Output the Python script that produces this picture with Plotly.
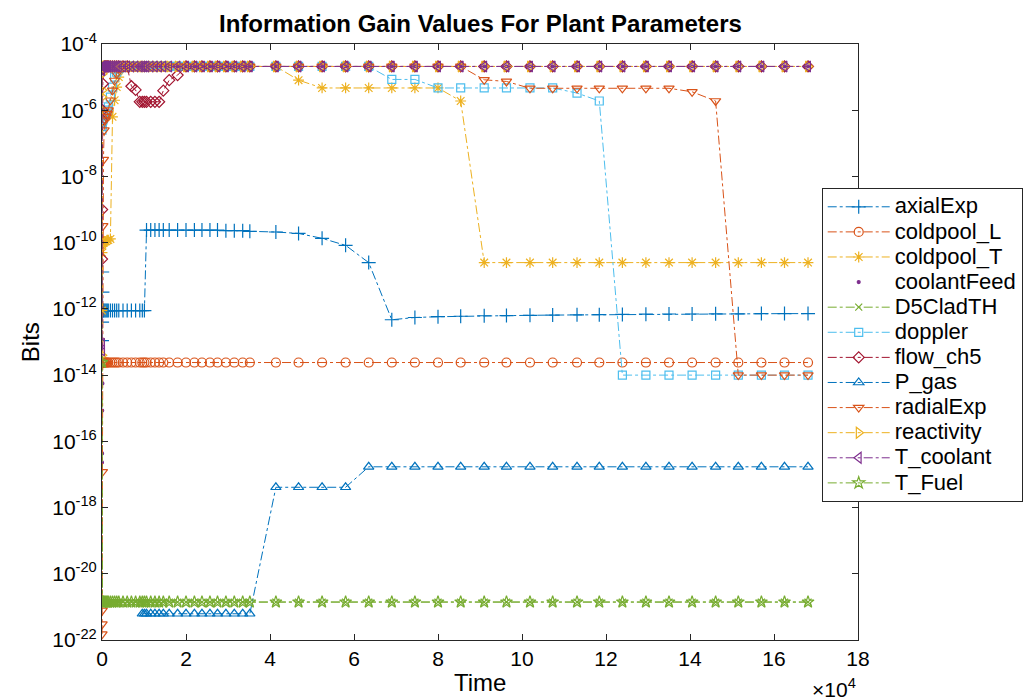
import plotly.graph_objects as go

# Time axis values (in units of 1e4)
TIME = [0, 0.002, 0.005, 0.01, 0.02, 0.035, 0.05, 0.075, 0.1, 0.125,
        0.15, 0.2, 0.25, 0.3, 0.35, 0.4, 0.5, 0.6, 0.7, 0.8,
        0.9, 0.96, 1.01, 1.06, 1.16, 1.26, 1.36, 1.46, 1.6, 1.8,
        2.0, 2.2, 2.38, 2.57, 2.75, 2.95, 3.15, 3.35, 3.52, 4.14,
        4.68, 5.24, 5.8, 6.35, 6.9, 7.45, 8.0, 8.54, 9.1, 9.63,
        10.19, 10.73, 11.31, 11.84, 12.39, 12.95, 13.5, 14.05, 14.61, 15.15,
        15.7, 16.25, 16.81]

AXIAL_EXP = [1.1e-13, 4.0e-13, 1.3e-11, 3.2e-12, 8.9e-13, 8.9e-13, 8.9e-13, 8.9e-13, 8.9e-13, 8.9e-13,
             8.9e-13, 8.9e-13, 8.9e-13, 8.9e-13, 8.9e-13, 8.9e-13, 8.9e-13, 8.9e-13, 8.9e-13, 8.9e-13,
             8.9e-13, 8.9e-13, 8.9e-13, 2.4e-10, 2.4e-10, 2.4e-10, 2.4e-10, 2.4e-10, 2.4e-10, 2.4e-10,
             2.4e-10, 2.4e-10, 2.4e-10, 2.4e-10, 2.4e-10, 2.3e-10, 2.3e-10, 2.3e-10, 2.2e-10, 2.1e-10,
             1.9e-10, 1.35e-10, 8.3e-11, 2.5e-11, 4.7e-13, 5.5e-13, 5.8e-13, 6.0e-13, 6.2e-13, 6.3e-13,
             6.4e-13, 6.5e-13, 6.6e-13, 6.7e-13, 6.8e-13, 6.9e-13, 7.0e-13, 7.0e-13, 7.1e-13, 7.1e-13,
             7.2e-13, 7.2e-13, 7.2e-13]

COLDPOOL_L = [2.4e-14, 2.4e-14, 2.4e-14, 2.4e-14, 2.4e-14, 2.4e-14, 2.4e-14, 2.4e-14, 2.4e-14, 2.4e-14,
              2.4e-14, 2.4e-14, 2.4e-14, 2.4e-14, 2.4e-14, 2.4e-14, 2.4e-14, 2.4e-14, 2.4e-14, 2.4e-14,
              2.4e-14, 2.4e-14, 2.4e-14, 2.4e-14, 2.4e-14, 2.4e-14, 2.4e-14, 2.4e-14, 2.4e-14, 2.4e-14,
              2.4e-14, 2.4e-14, 2.4e-14, 2.4e-14, 2.4e-14, 2.4e-14, 2.4e-14, 2.4e-14, 2.4e-14, 2.4e-14,
              2.4e-14, 2.4e-14, 2.4e-14, 2.4e-14, 2.4e-14, 2.4e-14, 2.4e-14, 2.4e-14, 2.4e-14, 2.4e-14,
              2.4e-14, 2.4e-14, 2.4e-14, 2.4e-14, 2.4e-14, 2.4e-14, 2.4e-14, 2.4e-14, 2.4e-14, 2.4e-14,
              2.4e-14, 2.4e-14, 2.4e-14]

COLDPOOL_T = [8.9e-13, 5.0e-11, 7.9e-11, 8.7e-11, 1.0e-10, 1.0e-10, 1.1e-10, 1.1e-10, 1.1e-10, 1.2e-10,
              1.2e-10, 1.3e-10, 6.3e-7, 2.0e-6, 5.0e-6, 1.0e-5, 2.0e-5, 2.1e-5, 2.1e-5, 2.1e-5,
              2.1e-5, 2.1e-5, 2.1e-5, 2.1e-5, 2.1e-5, 2.1e-5, 2.1e-5, 2.1e-5, 2.1e-5, 2.1e-5,
              2.1e-5, 2.1e-5, 2.1e-5, 2.1e-5, 2.1e-5, 2.1e-5, 2.1e-5, 2.1e-5, 2.1e-5, 2.1e-5,
              8.1e-6, 4.7e-6, 4.7e-6, 4.7e-6, 4.7e-6, 4.7e-6, 4.7e-6, 1.9e-6, 2.5e-11, 2.5e-11,
              2.5e-11, 2.5e-11, 2.5e-11, 2.5e-11, 2.5e-11, 2.5e-11, 2.5e-11, 2.5e-11, 2.5e-11, 2.5e-11,
              2.5e-11, 2.5e-11, 2.5e-11]

COOLANT_FEED = [2.3e-17, 4.3e-17, 8.5e-16, 5.6e-15, 1.8e-5, 2.1e-5, 2.1e-5, 2.1e-5, 2.1e-5, 2.1e-5,
                2.1e-5, 2.1e-5, 2.1e-5, 2.1e-5, 2.1e-5, 2.1e-5, 2.1e-5, 2.1e-5, 2.1e-5, 2.1e-5,
                2.1e-5, 2.1e-5, 2.1e-5, 2.1e-5, 2.1e-5, 2.1e-5, 2.1e-5, 2.1e-5, 2.1e-5, 2.1e-5,
                2.1e-5, 2.1e-5, 2.1e-5, 2.1e-5, 2.1e-5, 2.1e-5, 2.1e-5, 2.1e-5, 2.1e-5, 2.1e-5,
                2.1e-5, 2.1e-5, 2.1e-5, 2.1e-5, 2.1e-5, 2.1e-5, 2.1e-5, 2.1e-5, 2.1e-5, 2.1e-5,
                2.1e-5, 2.1e-5, 2.1e-5, 2.1e-5, 2.1e-5, 2.1e-5, 2.1e-5, 2.1e-5, 2.1e-5, 2.1e-5,
                2.1e-5, 2.1e-5, 2.1e-5]

D5CLADTH = [2.4e-14, 1.4e-21, 1.4e-21, 1.4e-21, 1.4e-21, 1.4e-21, 1.4e-21, 1.4e-21, 1.4e-21, 1.4e-21,
            1.4e-21, 1.4e-21, 1.4e-21, 1.4e-21, 1.4e-21, 1.4e-21, 1.4e-21, 1.4e-21, 1.4e-21, 1.4e-21,
            1.4e-21, 1.4e-21, 1.4e-21, 1.4e-21, 1.4e-21, 1.4e-21, 1.4e-21, 1.4e-21, 1.4e-21, 1.4e-21,
            1.4e-21, 1.4e-21, 1.4e-21, 1.4e-21, 1.4e-21, 1.4e-21, 1.4e-21, 1.4e-21, 1.4e-21, 1.4e-21,
            1.4e-21, 1.4e-21, 1.4e-21, 1.4e-21, 1.4e-21, 1.4e-21, 1.4e-21, 1.4e-21, 1.4e-21, 1.4e-21,
            1.4e-21, 1.4e-21, 1.4e-21, 1.4e-21, 1.4e-21, 1.4e-21, 1.4e-21, 1.4e-21, 1.4e-21, 1.4e-21,
            1.4e-21, 1.4e-21, 1.4e-21]

DOPPLER = [2.5e-7, 3.2e-7, 4.0e-7, 4.5e-7, 5.0e-7, 5.6e-7, 6.3e-7, 7.1e-7, 7.9e-7, 1.0e-6,
           1.26e-6, 2.5e-6, 5.0e-6, 1.0e-5, 1.4e-5, 1.8e-5, 2.1e-5, 2.1e-5, 2.1e-5, 2.1e-5,
           2.1e-5, 2.1e-5, 2.1e-5, 2.1e-5, 2.1e-5, 2.1e-5, 2.1e-5, 2.1e-5, 2.1e-5, 2.1e-5,
           2.1e-5, 2.1e-5, 2.1e-5, 2.1e-5, 2.1e-5, 2.1e-5, 2.1e-5, 2.1e-5, 2.1e-5, 2.1e-5,
           2.1e-5, 2.1e-5, 2.1e-5, 2.1e-5, 8.5e-6, 8.5e-6, 4.7e-6, 4.7e-6, 4.7e-6, 4.7e-6,
           4.7e-6, 4.7e-6, 3.3e-6, 1.9e-6, 1.0e-14, 1.0e-14, 1.0e-14, 1.0e-14, 1.0e-14, 1.0e-14,
           1.0e-14, 1.0e-14, 1.0e-14]

FLOW_CH5 = [3.2e-11, 1.0e-9, 5.0e-7, 1.0e-6, 6.3e-6, 1.8e-5, 2.1e-5, 2.1e-5, 2.1e-5, 2.1e-5,
            2.1e-5, 2.1e-5, 2.1e-5, 2.1e-5, 2.1e-5, 2.1e-5, 2.1e-5, 2.1e-5, 5.3e-6, 4.1e-6,
            1.8e-6, 1.8e-6, 1.8e-6, 1.8e-6, 1.8e-6, 1.8e-6, 1.8e-6, 3.9e-6, 8.1e-6, 1.15e-5,
            2.1e-5, 2.1e-5, 2.1e-5, 2.1e-5, 2.1e-5, 2.1e-5, 2.1e-5, 2.1e-5, 2.1e-5, 2.1e-5,
            2.1e-5, 2.1e-5, 2.1e-5, 2.1e-5, 2.1e-5, 2.1e-5, 2.1e-5, 2.1e-5, 2.1e-5, 2.1e-5,
            2.1e-5, 2.1e-5, 2.1e-5, 2.1e-5, 2.1e-5, 2.1e-5, 2.1e-5, 2.1e-5, 2.1e-5, 2.1e-5,
            2.1e-5, 2.1e-5, 2.1e-5]

P_GAS = [None, None, None, None, None, None, None, None, None, None,
         None, None, None, None, None, None, None, None, None, None,
         None, 6.2e-22, 6.2e-22, 6.2e-22, 6.2e-22, 6.2e-22, 6.2e-22, 6.2e-22, 6.2e-22, 6.2e-22,
         6.2e-22, 6.2e-22, 6.2e-22, 6.2e-22, 6.2e-22, 6.2e-22, 6.2e-22, 6.2e-22, 6.2e-22, 4.1e-18,
         4.1e-18, 4.1e-18, 4.1e-18, 1.7e-17, 1.7e-17, 1.7e-17, 1.7e-17, 1.7e-17, 1.7e-17, 1.7e-17,
         1.7e-17, 1.7e-17, 1.7e-17, 1.7e-17, 1.7e-17, 1.7e-17, 1.7e-17, 1.7e-17, 1.7e-17, 1.7e-17,
         1.7e-17, 1.7e-17, 1.7e-17]

RADIAL_EXP = [1.5e-22, 3.0e-22, 7.8e-22, 1.2e-17, 3.2e-10, 3.2e-8, 2.5e-7, 5.0e-7, 6.3e-7, 7.9e-7,
              1.0e-6, 2.0e-6, 4.0e-6, 7.9e-6, 1.26e-5, 1.8e-5, 2.1e-5, 2.1e-5, 2.1e-5, 2.1e-5,
              2.1e-5, 2.1e-5, 2.1e-5, 2.1e-5, 2.1e-5, 2.1e-5, 2.1e-5, 2.1e-5, 2.1e-5, 2.1e-5,
              2.1e-5, 2.1e-5, 2.1e-5, 2.1e-5, 2.1e-5, 2.1e-5, 2.1e-5, 2.1e-5, 2.1e-5, 2.1e-5,
              2.1e-5, 2.1e-5, 2.1e-5, 2.1e-5, 2.1e-5, 2.1e-5, 2.1e-5, 2.1e-5, 8.3e-6, 7.4e-6,
              4.6e-6, 4.6e-6, 4.6e-6, 4.6e-6, 4.6e-6, 4.6e-6, 4.6e-6, 3.6e-6, 1.9e-6, 1.0e-14,
              1.0e-14, 1.0e-14, 1.0e-14]

REACTIVITY = [4.0e-14, 2.5e-6, 4.0e-6, 1.26e-5, 2.1e-5, 2.1e-5, 2.1e-5, 2.1e-5, 2.1e-5, 2.1e-5,
              2.1e-5, 2.1e-5, 2.1e-5, 2.1e-5, 2.1e-5, 2.1e-5, 2.1e-5, 2.1e-5, 2.1e-5, 2.1e-5,
              2.1e-5, 2.1e-5, 2.1e-5, 2.1e-5, 2.1e-5, 2.1e-5, 2.1e-5, 2.1e-5, 2.1e-5, 2.1e-5,
              2.1e-5, 2.1e-5, 2.1e-5, 2.1e-5, 2.1e-5, 2.1e-5, 2.1e-5, 2.1e-5, 2.1e-5, 2.1e-5,
              2.1e-5, 2.1e-5, 2.1e-5, 2.1e-5, 2.1e-5, 2.1e-5, 2.1e-5, 2.1e-5, 2.1e-5, 2.1e-5,
              2.1e-5, 2.1e-5, 2.1e-5, 2.1e-5, 2.1e-5, 2.1e-5, 2.1e-5, 2.1e-5, 2.1e-5, 2.1e-5,
              2.1e-5, 2.1e-5, 2.1e-5]

T_COOLANT = [8.9e-14, 5.6e-14, 1.6e-5, 2.1e-5, 2.1e-5, 2.1e-5, 2.1e-5, 2.1e-5, 2.1e-5, 2.1e-5,
             2.1e-5, 2.1e-5, 2.1e-5, 2.1e-5, 2.1e-5, 2.1e-5, 2.1e-5, 2.1e-5, 2.1e-5, 2.1e-5,
             2.1e-5, 2.1e-5, 2.1e-5, 2.1e-5, 2.1e-5, 2.1e-5, 2.1e-5, 2.1e-5, 2.1e-5, 2.1e-5,
             2.1e-5, 2.1e-5, 2.1e-5, 2.1e-5, 2.1e-5, 2.1e-5, 2.1e-5, 2.1e-5, 2.1e-5, 2.1e-5,
             2.1e-5, 2.1e-5, 2.1e-5, 2.1e-5, 2.1e-5, 2.1e-5, 2.1e-5, 2.1e-5, 2.1e-5, 2.1e-5,
             2.1e-5, 2.1e-5, 2.1e-5, 2.1e-5, 2.1e-5, 2.1e-5, 2.1e-5, 2.1e-5, 2.1e-5, 2.1e-5,
             2.1e-5, 2.1e-5, 2.1e-5]

T_FUEL = [2.4e-14, 1.4e-21, 1.4e-21, 1.4e-21, 1.4e-21, 1.4e-21, 1.4e-21, 1.4e-21, 1.4e-21, 1.4e-21,
          1.4e-21, 1.4e-21, 1.4e-21, 1.4e-21, 1.4e-21, 1.4e-21, 1.4e-21, 1.4e-21, 1.4e-21, 1.4e-21,
          1.4e-21, 1.4e-21, 1.4e-21, 1.4e-21, 1.4e-21, 1.4e-21, 1.4e-21, 1.4e-21, 1.4e-21, 1.4e-21,
          1.4e-21, 1.4e-21, 1.4e-21, 1.4e-21, 1.4e-21, 1.4e-21, 1.4e-21, 1.4e-21, 1.4e-21, 1.4e-21,
          1.4e-21, 1.4e-21, 1.4e-21, 1.4e-21, 1.4e-21, 1.4e-21, 1.4e-21, 1.4e-21, 1.4e-21, 1.4e-21,
          1.4e-21, 1.4e-21, 1.4e-21, 1.4e-21, 1.4e-21, 1.4e-21, 1.4e-21, 1.4e-21, 1.4e-21, 1.4e-21,
          1.4e-21, 1.4e-21, 1.4e-21]

X_TICKS = [0, 2, 4, 6, 8, 10, 12, 14, 16, 18]
Y_TICK_EXPONENTS = [-22, -20, -18, -16, -14, -12, -10, -8, -6, -4]

SERIES = [
    ("axialExp", AXIAL_EXP, "#0072BD", "cross-thin-open", 10, "lines+markers"),
    ("coldpool_L", COLDPOOL_L, "#D95319", "circle-open", 9, "lines+markers"),
    ("coldpool_T", COLDPOOL_T, "#EDB120", "asterisk-open", 9, "lines+markers"),
    ("coolantFeed", COOLANT_FEED, "#7E2F8E", "circle", 3, "markers"),
    ("D5CladTH", D5CLADTH, "#77AC30", "x-thin-open", 7, "lines+markers"),
    ("doppler", DOPPLER, "#4DBEEE", "square-open", 8, "lines+markers"),
    ("flow_ch5", FLOW_CH5, "#A2142F", "diamond-open", 8.5, "lines+markers"),
    ("P_gas", P_GAS, "#0072BD", "triangle-up-open", 9, "lines+markers"),
    ("radialExp", RADIAL_EXP, "#D95319", "triangle-down-open", 9, "lines+markers"),
    ("reactivity", REACTIVITY, "#EDB120", "triangle-right-open", 9.5, "lines+markers"),
    ("T_coolant", T_COOLANT, "#7E2F8E", "triangle-left-open", 9.5, "lines+markers"),
    ("T_Fuel", T_FUEL, "#77AC30", "star-open", 9, "lines+markers"),
]

FONT = "Liberation Sans, Arial, Helvetica, sans-serif"
LEGEND_TEXT = "<span style='font-size:22px'>%s</span>"

fig = go.Figure()
for name, vals, color, sym, size, mode in SERIES:
    assert len(vals) == len(TIME), name
    fig.add_trace(go.Scatter(
        x=TIME, y=vals, name=LEGEND_TEXT % name, mode=mode,
        line=dict(color=color, width=1, dash="dashdot"),
        marker=dict(symbol=sym, size=size, color=color,
                    line=dict(color=color, width=1.2)),
    ))

# The page body adds an 8px offset, so margins are shifted to keep the plot box in place.
fig.update_layout(
    width=1034, height=700,
    margin=dict(l=94, r=184, t=36, b=68, autoexpand=False),
    plot_bgcolor="white", paper_bgcolor="white",
    font=dict(family=FONT, size=21, color="black"),
    showlegend=True,
    legend=dict(x=0.952, y=0.758, xanchor="left", yanchor="top",
                bgcolor="white", bordercolor="#262626", borderwidth=1,
                font=dict(family=FONT, size=17, color="black"),
                tracegroupgap=0, itemwidth=62),
    xaxis=dict(range=[0, 18], tickvals=X_TICKS, ticktext=[str(v) for v in X_TICKS],
               ticks="inside", ticklen=6, tickcolor="#262626", showline=True,
               linecolor="#262626", linewidth=1, mirror="ticks", showgrid=False,
               zeroline=False, tickfont=dict(size=21)),
    yaxis=dict(type="log", range=[-22, -4],
               tickvals=[10.0 ** e for e in Y_TICK_EXPONENTS],
               ticktext=["10<sup>%d</sup>" % e for e in Y_TICK_EXPONENTS],
               ticks="inside", ticklen=6, tickcolor="#262626", showline=True,
               linecolor="#262626", linewidth=1, mirror="ticks", showgrid=False,
               zeroline=False, tickfont=dict(size=21)),
    annotations=[
        dict(text="<b>Information Gain Values For Plant Parameters</b>",
             xref="paper", yref="paper", x=0.5, y=1.0604, xanchor="center",
             yanchor="top", showarrow=False, font=dict(size=24, family=FONT)),
        dict(text="Time", xref="paper", yref="paper", x=0.5, y=-0.072,
             xanchor="center", yanchor="middle", showarrow=False,
             font=dict(size=24, family=FONT)),
        dict(text="Bits", xref="paper", yref="paper", x=-0.095, y=0.5,
             xanchor="center", yanchor="middle", textangle=-90, showarrow=False,
             font=dict(size=24, family=FONT)),
        dict(text="\u00d710<sup>4</sup>", xref="paper", yref="paper", x=1.0, y=-0.08,
             xanchor="right", yanchor="middle", showarrow=False,
             font=dict(size=21, family=FONT)),
    ],
)

fig.write_html("out.html")
